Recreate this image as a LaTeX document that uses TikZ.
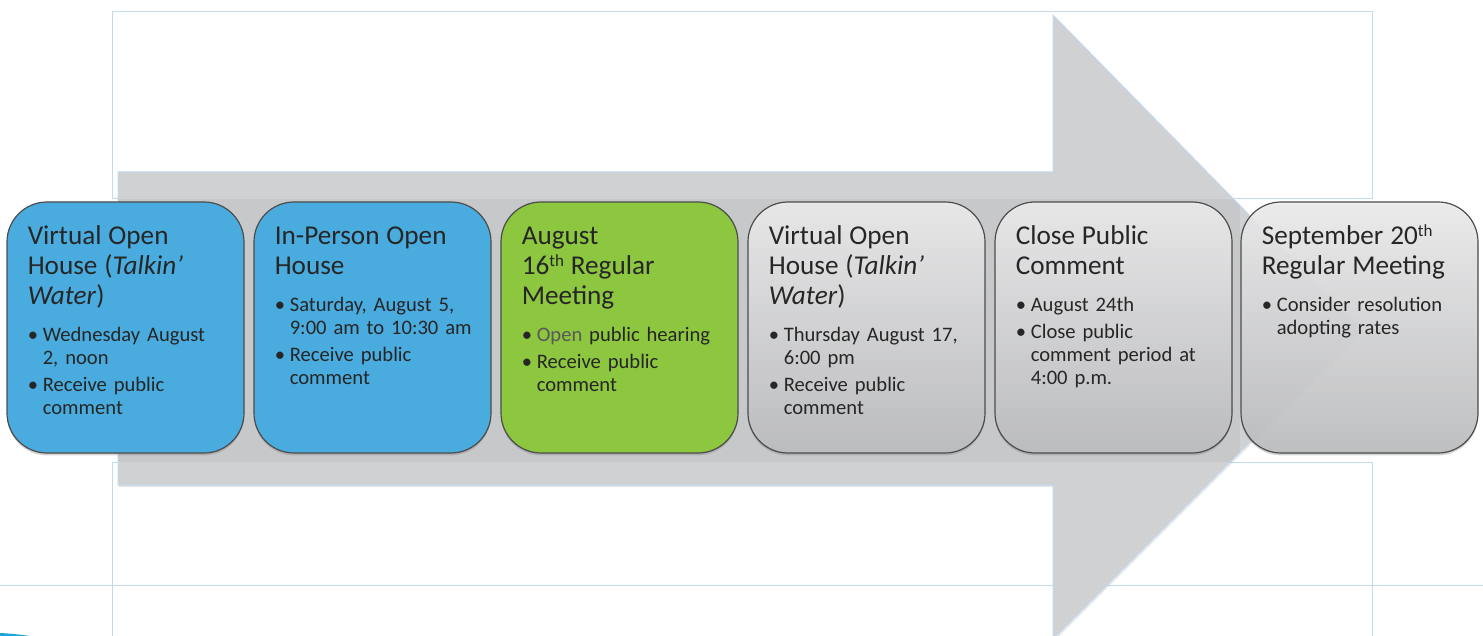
\documentclass[tikz,border=0pt]{standalone}
\usepackage{fontspec}
\setmainfont{Carlito}
\usetikzlibrary{positioning,shadows}

\definecolor{ink}{HTML}{262626}
\definecolor{stageblue}{HTML}{4AABDE}
\definecolor{stagegreen}{HTML}{8DC63F}
\definecolor{stagetop}{HTML}{EDEDEE}
\definecolor{stagebottom}{HTML}{BDBEC0}
\definecolor{arrowgrey}{HTML}{D0D1D3}
\definecolor{frameblue}{HTML}{C3D9EE}
\definecolor{swoosh}{HTML}{1FA3DD}

% box heading, one bullet of a box, and a small ordinal suffix
\newcommand\stagetitle[1]{{\fontsize{13.6}{15}\selectfont\rule{0pt}{12pt}#1\par}\vspace{5pt}}
\newcommand\stageitem[1]{\par\vspace{2pt}\hangindent=7.5pt\hangafter=1\noindent\makebox[7.5pt][l]{\textbullet}#1\par}
\newcommand\ordsup[1]{\raisebox{0.32em}{\fontsize{8.5}{8.5}\selectfont #1}}

\begin{document}
\begin{tikzpicture}[x=0.5pt, y=-0.5pt,
  stage/.style={rounded corners=20pt, minimum width=118.5pt, minimum height=125.5pt,
    draw=black!70, line width=0.6pt,
    drop shadow={shadow xshift=0pt, shadow yshift=-1.2pt, opacity=0.35}},
  greystage/.style={stage, top color=stagetop, bottom color=stagebottom, fill opacity=0.9},
  stagetext/.style={inner sep=0pt, text width=110pt, align=left, text=ink,
    font=\fontsize{10.3}{11.5}\selectfont},
  frame/.style={draw=frameblue, line width=0.5pt}]

\useasboundingbox (0,0) rectangle (1483,636);

% guide lines behind the arrow
\draw[frame] (112,12) rectangle (1372,199);
\draw[frame] (112,462) rectangle (1372,660);
\draw[frame] (0,585) -- (1483,585);
\fill[swoosh] (0,633) .. controls (10,633.5) and (20,634.5) .. (30,636) -- (0,636) -- cycle;

% big arrow
\path[fill=arrowgrey, draw=frameblue, line width=0.5pt,
  drop shadow={shadow xshift=0.5pt, shadow yshift=-1pt, opacity=0.2}]
  (118,172) -- (1053,172) -- (1053,15) -- (1362,330) -- (1053,639) -- (1053,485) -- (118,485) -- cycle;
\begin{scope}
\clip (118,172) -- (1053,172) -- (1053,15) -- (1362,330) -- (1053,639) -- (1053,485) -- (118,485) -- cycle;
\fill[black, opacity=0.04] (112,199) rectangle (1240,462);
\end{scope}

% stages
\node[stage, fill=stageblue] (vo1) at (125.5,327.5) {};
\node[stage, fill=stageblue] (ipoh) at (372.5,327.5) {};
\node[stage, fill=stagegreen] (aug16) at (619.5,327.5) {};
\node[greystage] (vo2) at (866.5,327.5) {};
\node[greystage] (close) at (1113.5,327.5) {};
\node[greystage] (sep20) at (1359.5,327.5) {};

\node[stagetext, below right=9.5pt and 10.5pt of vo1.north west] (vo1-t)
  {\stagetitle{Virtual Open\\House (\textit{Talkin’}\\\textit{Water})}%
   \stageitem{Wednesday August\newline 2, noon}%
   \stageitem{Receive public\newline comment}};
\node[stagetext, below right=9.5pt and 10.5pt of ipoh.north west] (ipoh-t)
  {\stagetitle{In-Person Open\\House}%
   \stageitem{Saturday, August 5,\newline 9:00 am to 10:30 am}%
   \stageitem{Receive public\newline comment}};
\node[stagetext, below right=9.5pt and 10.5pt of aug16.north west] (aug16-t)
  {\stagetitle{August\\16\ordsup{th} Regular\\Meeting}%
   \stageitem{\textcolor{black!65}{Open} public hearing}%
   \stageitem{Receive public\newline comment}};
\node[stagetext, below right=9.5pt and 10.5pt of vo2.north west] (vo2-t)
  {\stagetitle{Virtual Open\\House (\textit{Talkin’}\\\textit{Water})}%
   \stageitem{Thursday August 17,\newline 6:00 pm}%
   \stageitem{Receive public\newline comment}};
\node[stagetext, below right=9.5pt and 10.5pt of close.north west] (close-t)
  {\stagetitle{Close Public\\Comment}%
   \stageitem{August 24th}%
   \stageitem{Close public\newline comment period at\newline 4:00 p.m.}};
\node[stagetext, below right=9.5pt and 10.5pt of sep20.north west] (sep20-t)
  {\stagetitle{September 20\ordsup{th}\\Regular Meeting}%
   \stageitem{Consider resolution\newline adopting rates}};

\end{tikzpicture}
\end{document}
